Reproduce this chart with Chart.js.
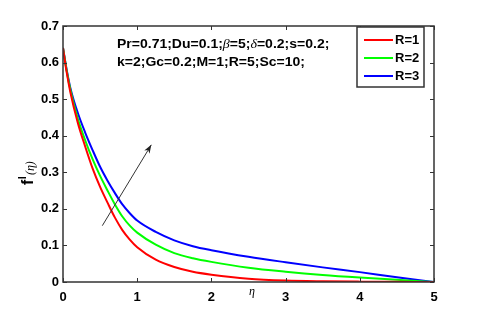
<!DOCTYPE html>
<html lang="en">
<head>
<meta charset="UTF-8">
<title>f'(eta) for R</title>
<script src="https://cdn.jsdelivr.net/npm/chart.js@4.4.1/dist/chart.umd.min.js"></script>
<style>
    html, body { margin: 0; padding: 0; background: #fff; }
    #wrap { position: relative; width: 480px; height: 311px; }
</style>
</head>
<body>
<div id="wrap"><canvas id="chart"></canvas></div>
<script>
// eta grid and f'(eta)
const eta = [0, 0.05, 0.1, 0.2, 0.3, 0.4, 0.5, 0.6, 0.7, 0.8, 0.9, 1.0, 1.25, 1.5, 1.75, 2, 2.5, 3, 3.5, 4, 4.5, 5];
const fR1 = [0.64, 0.573, 0.518, 0.435, 0.37, 0.31, 0.26, 0.217, 0.176, 0.142, 0.116, 0.095, 0.061, 0.041, 0.028, 0.02, 0.009, 0.004, 0.002, 0.001, 0.0005, 0];
const fR2 = [0.64, 0.577, 0.525, 0.446, 0.387, 0.335, 0.29, 0.25, 0.212, 0.179, 0.154, 0.135, 0.102, 0.079, 0.065, 0.055, 0.039, 0.028, 0.019, 0.012, 0.006, 0];
const fR3 = [0.64, 0.58, 0.53, 0.462, 0.408, 0.36, 0.315, 0.277, 0.243, 0.212, 0.188, 0.168, 0.137, 0.114, 0.098, 0.087, 0.069, 0.054, 0.04, 0.027, 0.013, 0];
const seriesNames = ['R=1', 'R=2', 'R=3'];
const seriesColors = ['#ff0000', '#00ff00', '#0000ff'];
const xTicks = [0, 1, 2, 3, 4, 5];
const yTicks = [0, 0.1, 0.2, 0.3, 0.4, 0.5, 0.6, 0.7];
// arrow annotation, in data units: [eta, f']
const arrowFrom = [0.53, 0.154];
const arrowTo = [1.19, 0.375];

const boldFont = '"Liberation Sans", Arial, sans-serif';
const serifFont = '"Liberation Serif", "Times New Roman", serif';

function pts(ys) {
    return eta.map((x, i) => ({ x: x, y: ys[i] }));
}

// draws the box, inward ticks, legend, parameter text, arrow and axis titles
const decor = {
    id: 'decor',
    afterDraw(chart) {
        const ctx = chart.ctx;
        const a = chart.chartArea;
        const xs = chart.scales.x, ys = chart.scales.y;
        ctx.save();

        ctx.strokeStyle = '#333';
        ctx.lineWidth = 1.5;
        ctx.strokeRect(a.left, a.top, a.right - a.left, a.bottom - a.top);
        ctx.lineWidth = 1;
        ctx.beginPath();
        xTicks.forEach(v => {
            const px = Math.round(xs.getPixelForValue(v)) + 0.5;
            ctx.moveTo(px, a.bottom); ctx.lineTo(px, a.bottom - 4);
            ctx.moveTo(px, a.top); ctx.lineTo(px, a.top + 4);
        });
        yTicks.forEach(v => {
            const py = Math.round(ys.getPixelForValue(v)) + 0.5;
            ctx.moveTo(a.left, py); ctx.lineTo(a.left + 4, py);
            ctx.moveTo(a.right, py); ctx.lineTo(a.right - 4, py);
        });
        ctx.stroke();

        // legend box
        const lx = 357, ly = 27, lw = 67, lh = 60;
        ctx.fillStyle = '#fff';
        ctx.fillRect(lx, ly, lw, lh);
        ctx.strokeStyle = '#333';
        ctx.lineWidth = 1.5;
        ctx.strokeRect(lx, ly, lw, lh);
        ctx.font = 'bold 13px ' + boldFont;
        ctx.textBaseline = 'middle';
        ctx.textAlign = 'left';
        seriesNames.forEach((name, i) => {
            const y = ly + 13 + i * 18;
            ctx.strokeStyle = seriesColors[i];
            ctx.lineWidth = 2;
            ctx.beginPath();
            ctx.moveTo(lx + 7, y); ctx.lineTo(lx + 36, y);
            ctx.stroke();
            ctx.fillStyle = '#000';
            ctx.fillText(name, lx + 38, y);
        });

        // parameter text, mixed fonts, slightly stretched like the original
        function runs(parts, x, y) {
            ctx.save();
            ctx.translate(x, y);
            ctx.scale(1.12, 1);
            let cx = 0;
            parts.forEach(p => {
                ctx.font = p[1] ? 'italic 12.5px ' + serifFont : 'bold 12.5px ' + boldFont;
                ctx.fillText(p[0], cx, 0);
                cx += ctx.measureText(p[0]).width;
            });
            ctx.restore();
        }
        ctx.fillStyle = '#000';
        ctx.textBaseline = 'alphabetic';
        runs([['Pr=0.71;Du=0.1;'], ['\u03b2', 1], ['=5;'], ['\u03b4', 1], ['=0.2;s=0.2;']], 117, 48);
        runs([['k=2;Gc=0.2;M=1;R=5;Sc=10;']], 117, 66);

        // arrow
        const x0 = xs.getPixelForValue(arrowFrom[0]), y0 = ys.getPixelForValue(arrowFrom[1]);
        const x1 = xs.getPixelForValue(arrowTo[0]), y1 = ys.getPixelForValue(arrowTo[1]);
        const ang = Math.atan2(y1 - y0, x1 - x0);
        ctx.strokeStyle = '#333';
        ctx.fillStyle = '#222';
        ctx.lineWidth = 1;
        ctx.beginPath();
        ctx.moveTo(x0, y0); ctx.lineTo(x1, y1);
        ctx.stroke();
        ctx.beginPath();
        ctx.moveTo(x1, y1);
        ctx.lineTo(x1 - 9 * Math.cos(ang - 0.35), y1 - 9 * Math.sin(ang - 0.35));
        ctx.lineTo(x1 - 6 * Math.cos(ang), y1 - 6 * Math.sin(ang));
        ctx.lineTo(x1 - 9 * Math.cos(ang + 0.35), y1 - 9 * Math.sin(ang + 0.35));
        ctx.closePath();
        ctx.fill();

        // x title
        ctx.fillStyle = '#000';
        ctx.font = 'italic 12px ' + serifFont;
        ctx.textAlign = 'center';
        ctx.textBaseline = 'middle';
        ctx.fillText('\u03b7', 252, 292);

        // y title f'(eta), rotated
        ctx.translate(28, 170);
        ctx.rotate(-Math.PI / 2);
        ctx.textAlign = 'left';
        ctx.textBaseline = 'alphabetic';
        let tx = -15;
        ctx.font = 'bold 16px ' + boldFont;
        ctx.fillText('f', tx, 5);
        tx += ctx.measureText('f').width + 0.5;
        ctx.font = 'bold 11px ' + boldFont;
        ctx.fillText('l', tx, -2);
        tx += ctx.measureText('l').width + 1;
        ctx.font = 'italic 12px ' + serifFont;
        ctx.fillText('(\u03b7)', tx, 6);
        ctx.restore();
    }
};

new Chart(document.getElementById('chart'), {
    type: 'line',
    data: {
        datasets: [fR1, fR2, fR3].map((ys, i) => ({
            label: seriesNames[i],
            data: pts(ys),
            borderColor: seriesColors[i],
            borderWidth: 2,
            pointRadius: 0,
            cubicInterpolationMode: 'monotone',
            fill: false
        }))
    },
    options: {
        responsive: true,
        maintainAspectRatio: false,
        animation: false,
        layout: { padding: { left: 0, right: 46, top: 26, bottom: 0 } },
        plugins: { legend: { display: false }, tooltip: { enabled: false } },
        scales: {
            x: {
                type: 'linear',
                min: 0, max: 5,
                afterFit: s => { s.height = 29; },
                afterBuildTicks: s => { s.ticks = xTicks.map(v => ({ value: v })); },
                grid: { drawOnChartArea: false, drawTicks: false },
                border: { display: false },
                ticks: {
                    padding: 8,
                    color: '#000',
                    font: { family: boldFont, size: 13, weight: 'bold' }
                }
            },
            y: {
                min: 0, max: 0.7,
                afterFit: s => { s.width = 63; },
                afterBuildTicks: s => { s.ticks = yTicks.map(v => ({ value: v })); },
                grid: { drawOnChartArea: false, drawTicks: false },
                border: { display: false },
                ticks: {
                    padding: 4,
                    color: '#000',
                    font: { family: boldFont, size: 13, weight: 'bold' },
                    callback: v => v === 0 ? '0' : v.toFixed(1)
                }
            }
        }
    },
    plugins: [decor]
});
</script>
</body>
</html>
